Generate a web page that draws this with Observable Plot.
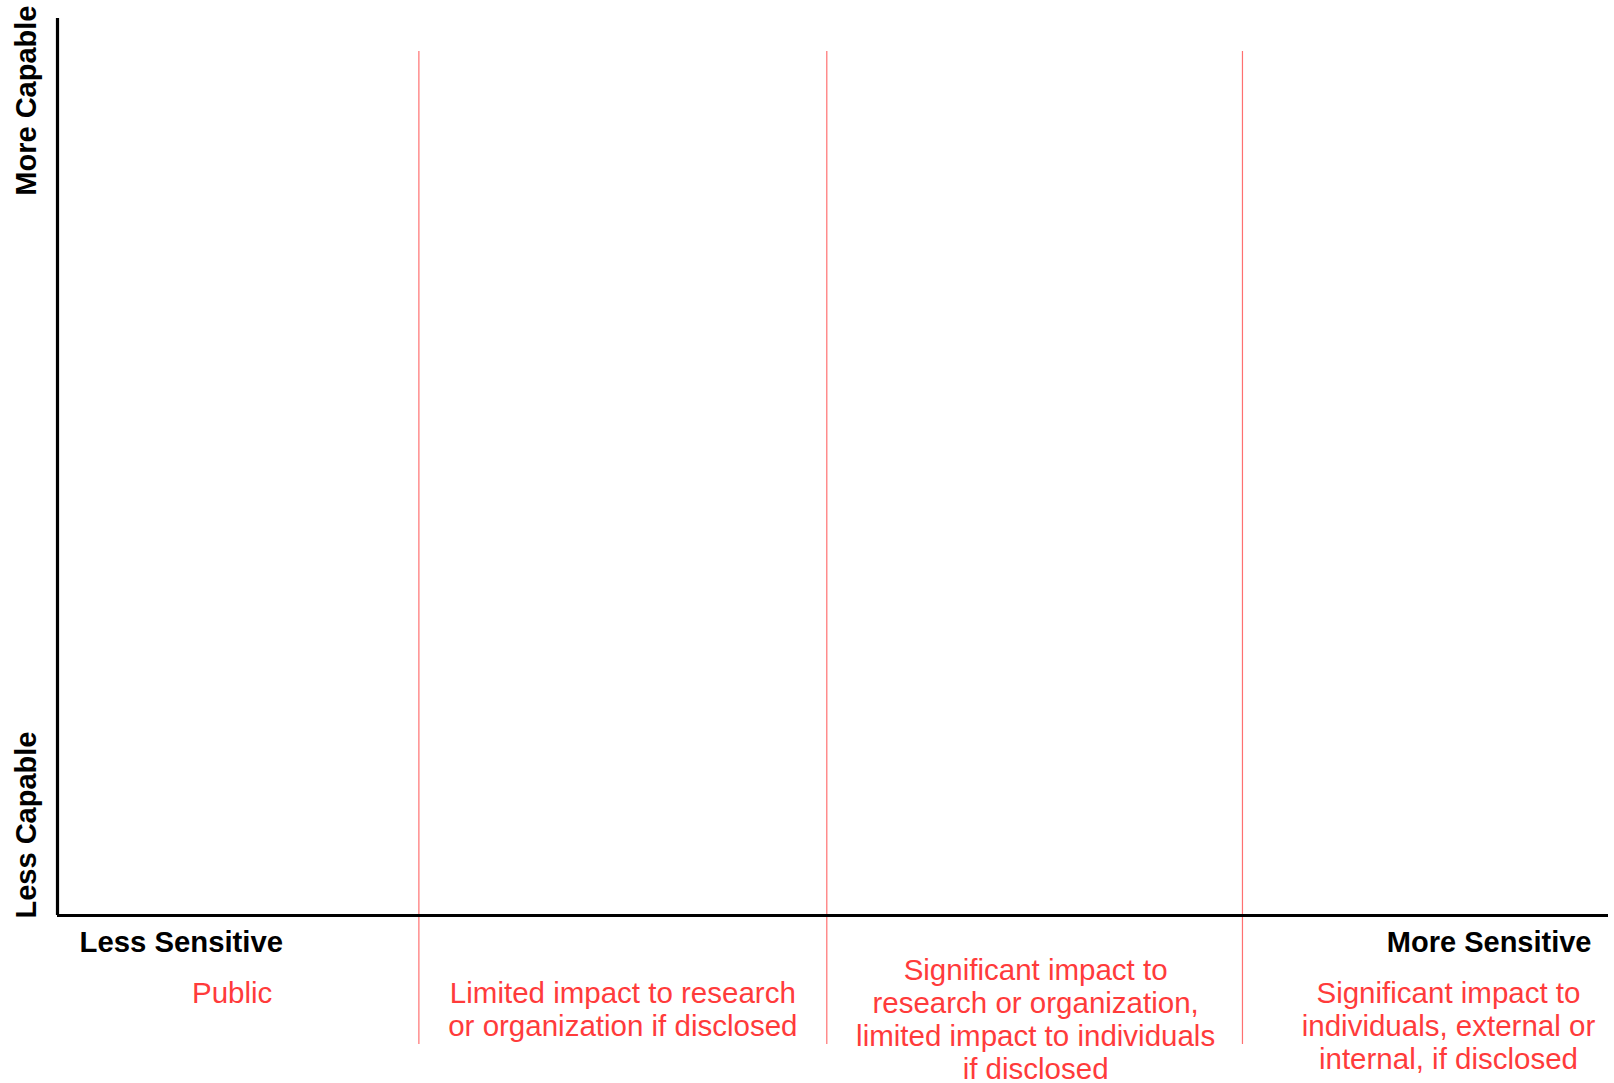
<!DOCTYPE html>
<html>
<head>
<meta charset="utf-8">
<script src="https://cdn.jsdelivr.net/npm/d3@7"></script>
<script src="https://cdn.jsdelivr.net/npm/@observablehq/plot@0.6"></script>
<style>
  html, body { margin: 0; padding: 0; background: #fff; }
  #chart svg { display: block; }
</style>
</head>
<body>
<div id="chart"></div>
<script>
// Category boundaries along the sensitivity axis (0 = least, 100 = most)
const boundaries = [0, 23.3, 49.6, 76.4, 100];
const categories = [
  "Public",
  "Limited impact to research\nor organization if disclosed",
  "Significant impact to\nresearch or organization,\nlimited impact to individuals\nif disclosed",
  "Significant impact to\nindividuals, external or\ninternal, if disclosed"
];
const xAxisLabels = ["Less Sensitive", "More Sensitive"];
const yAxisLabels = ["Less Capable", "More Capable"];

const dividers = boundaries.slice(1, -1);
const catData = categories.map((label, i) => ({
  label,
  x: (boundaries[i] + boundaries[i + 1]) / 2,
  i
}));

const font = "'Liberation Sans', Arial, Helvetica, sans-serif";
const red = "#ff3b3b";
const labelStyle = { fill: red, fontSize: 29.5, lineHeight: 1.115, lineAnchor: "top", textAnchor: "middle", frameAnchor: "bottom", x: "x", text: "label" };
// per-label horizontal / vertical nudges (pixels)
const nudges = [[-6, 64], [0, 64], [1, 41], [23, 64]];

const chart = Plot.plot({
  width: 1614,
  height: 1083,
  marginLeft: 57,
  marginRight: 6,
  marginTop: 18,
  marginBottom: 168,
  style: { fontFamily: font, background: "#fff" },
  x: { domain: [boundaries[0], boundaries[boundaries.length - 1]], axis: null },
  y: { domain: [0, 1], axis: null },
  marks: [
    Plot.ruleX(dividers, { stroke: "#ff7070", strokeWidth: 1.2, insetTop: 33, insetBottom: -129 }),
    Plot.ruleY([0], { stroke: "#000", strokeWidth: 3.2 }),
    Plot.ruleX([0], { stroke: "#000", strokeWidth: 3.2 }),
    // x-axis end labels
    Plot.text([xAxisLabels[0]], { frameAnchor: "bottom-left", dx: 22, dy: 16, textAnchor: "start", lineAnchor: "top", fontSize: 29.3, fontWeight: "bold", fill: "#000" }),
    Plot.text([xAxisLabels[1]], { frameAnchor: "bottom-right", dx: -17, dy: 16, textAnchor: "end", lineAnchor: "top", fontSize: 29, fontWeight: "bold", fill: "#000" }),
    // y-axis end labels (rotated)
    Plot.text([yAxisLabels[0]], { frameAnchor: "bottom-left", dx: -31, dy: 3, rotate: -90, textAnchor: "start", lineAnchor: "middle", fontSize: 29, fontWeight: "bold", fill: "#000" }),
    Plot.text([yAxisLabels[1]], { frameAnchor: "top-left", dx: -31, dy: -13, rotate: -90, textAnchor: "end", lineAnchor: "middle", fontSize: 29, fontWeight: "bold", fill: "#000" }),
    // category descriptions
    ...catData.map((d, i) => Plot.text([d], { ...labelStyle, dx: nudges[i][0], dy: nudges[i][1] }))
  ]
});
document.getElementById("chart").appendChild(chart);
</script>
</body>
</html>
